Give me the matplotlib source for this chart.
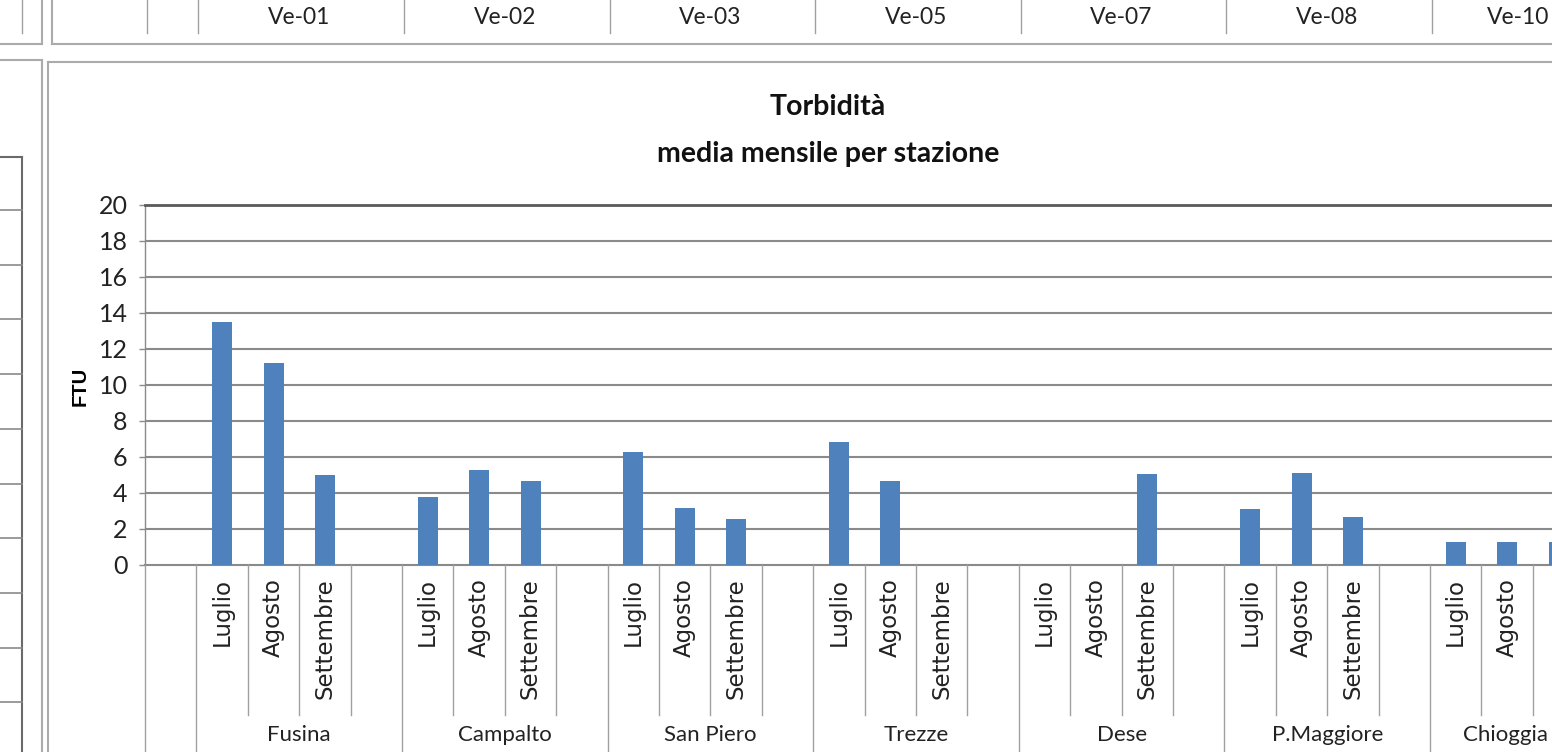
import numpy as np
import matplotlib
matplotlib.use("Agg")
import matplotlib.pyplot as plt
from matplotlib.lines import Line2D
from matplotlib.transforms import blended_transform_factory, offset_copy

# data (FTU, monthly mean per station)
stations  = ["Fusina", "Campalto", "San Piero", "Trezze", "Dese", "P.Maggiore", "Chioggia"]
codes     = ["Ve-01", "Ve-02", "Ve-03", "Ve-05", "Ve-07", "Ve-08", "Ve-10"]
months    = ["Luglio", "Agosto", "Settembre"]
luglio    = [13.5, 3.8, 6.3, 6.85, np.nan, 3.1, 1.28]
agosto    = [11.2, 5.3, 3.15, 4.65, np.nan, 5.13, 1.28]
settembre = [5.0, 4.67, 2.54, np.nan, 5.04, 2.68, 1.3]
y_ticks   = list(range(0, 21, 2))

W, H = 1552, 752
NARROW = ["Liberation Sans Narrow", "Lato", "DejaVu Sans"]
WIDE   = ["DejaVu Sans"]
BAR    = "#4F81BD"
GRID   = "#8A8A8A"
FRAME  = "#ABABAB"

def fx(x):
    return x / W

def fy(y):
    return 1 - y / H

fig = plt.figure(figsize=(W / 100, H / 100), dpi=100)

# plot area: y axis at x=145 px, 0 at y=565 px, 20 at y=205 px, slot width 51.4 px
slot_px = 51.4
ax = fig.add_axes([fx(145), fy(565), fx(W - 145), (565 - 205) / H])

series = [luglio, agosto, settembre]
for m, vals in enumerate(series):
    xs = [1 + 4 * g + m + 0.5 for g in range(len(stations))]
    ax.bar(xs, vals, width=20 / slot_px, color=BAR, zorder=3, clip_on=True)

x_max = (W - 145) / slot_px
ax.set_xlim(0, x_max)
ax.set_ylim(0, 20)
ax.set_yticks(y_ticks)
ax.set_yticklabels([str(v) for v in y_ticks], family=NARROW, fontsize=18, color="#222222")
ax.set_xticks([])
ax.tick_params(axis="y", direction="out", length=4.5, width=1, color=GRID, pad=8)
for yv in y_ticks[1:-1]:
    ax.axhline(yv, color=GRID, lw=1.5, zorder=1)
ax.spines["right"].set_visible(False)
ax.spines["top"].set_color("#5A5A5A")
ax.spines["top"].set_linewidth(2)
ax.spines["left"].set_color(GRID)
ax.spines["left"].set_linewidth(1)
ax.spines["bottom"].set_color(GRID)
ax.spines["bottom"].set_linewidth(1.5)
ax.set_ylabel("FTU", family=["Liberation Sans", "DejaVu Sans"], fontweight="bold", fontsize=14.5)
ax.yaxis.set_label_coords((90 - 145) / (W - 145), (565 - 386) / 360)

# category axis: multi-level labels with separators
trans = blended_transform_factory(ax.transData, fig.transFigure)
n_slots = 1 + 4 * len(stations)
for b in range(n_slots + 1):
    long_line = (b == 0) or (b % 4 == 1)
    y_end = 0 if long_line else fy(715)
    fig.add_artist(Line2D([b, b], [fy(565), y_end], transform=trans, color="#A0A0A0", lw=1))
for g, st in enumerate(stations):
    for m, mon in enumerate(months):
        xc = 1 + 4 * g + m + 0.5
        if xc > x_max:
            continue  # label falls outside the visible part of the chart
        fig.text(xc, fy(578), mon, transform=trans, rotation=90,
                 ha="center", va="top", family=WIDE, fontsize=16.5, color="#222222")
    if 4 * g + 5 > x_max:
        # last group is squeezed against the right edge, as in the reference
        fig.text(fx(1548), fy(735), st, ha="right", va="center",
                 family=NARROW, fontsize=16, color="#222222")
    else:
        fig.text(4 * g + 3, fy(735), st, transform=trans, ha="center", va="center",
                 family=NARROW, fontsize=16, color="#222222")

# title
fig.text(fx(828), fy(115), "Torbidità", ha="center", va="baseline",
         family=NARROW, fontweight="bold", fontsize=20.5, color="#111111")
fig.text(fx(828), fy(162), "media mensile per stazione", ha="center", va="baseline",
         family=NARROW, fontweight="bold", fontsize=20.5, color="#111111")

# header table strip above the chart
trans_off = offset_copy(trans, fig=fig, x=2, y=0, units="dots")
for b in [0, 1] + [1 + 4 * g for g in range(1, len(stations) + 1)]:
    fig.add_artist(Line2D([b, b], [fy(0), fy(33)], transform=trans_off, color="#A0A0A0", lw=1))
for g, code in enumerate(codes):
    if 4 * g + 5 > x_max:
        fig.text(fx(1549), fy(17), code, ha="right", va="center",
                 family=NARROW, fontsize=16.5, color="#222222")
    else:
        fig.text(4 * g + 3, fy(17), code, transform=trans, ha="center", va="center",
                 family=NARROW, fontsize=16.5, color="#222222")

def seg(x0, y0, x1, y1, color=FRAME, lw=1.5):
    fig.add_artist(Line2D([fx(x0), fx(x1)], [fy(y0), fy(y1)], transform=fig.transFigure,
                          color=color, lw=lw))

# cell / chart frames
seg(42, 0, 42, 44)
seg(0, 44, 42, 44)
seg(22, 0, 22, 33, color="#A0A0A0", lw=1)
seg(52, 0, 52, 44)
seg(52, 44, W, 44)
seg(42, 60, 42, H)
seg(0, 60, 42, 60)
seg(48, 62, 48, H)
seg(48, 62, W, 62)

# neighbouring chart (cut off on the left)
seg(22, 157, 22, H, color="#6A6A6A", lw=1.5)
seg(0, 157, 22, 157, color="#6A6A6A", lw=1.5)
for k in range(10):
    yy = 210 + 54.7 * k
    seg(0, yy, 22, yy, color=GRID, lw=1.2)

fig.savefig("out.png", dpi=100)
